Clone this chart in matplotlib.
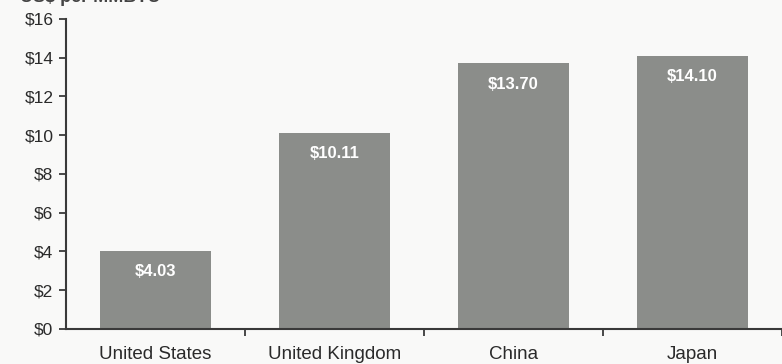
import matplotlib
matplotlib.use("Agg")
import matplotlib.pyplot as plt
from matplotlib.ticker import FixedLocator, NullFormatter

countries = ["United States", "United Kingdom", "China", "Japan"]
prices = [4.03, 10.11, 13.70, 14.10]
y_ticks = [0, 2, 4, 6, 8, 10, 12, 14, 16]
y_tick_labels = [f"${v}" for v in y_ticks]
unit_label = "US$ per MMBTU"

plt.rcParams["font.family"] = ["Liberation Sans", "DejaVu Sans"]

bg = "#f9f9f8"
bar_color = "#8b8d8a"
axis_color = "#3a3a3a"
text_color = "#2a2a2a"

fig = plt.figure(figsize=(7.82, 3.64), dpi=100, facecolor=bg)
ax = fig.add_axes([0.0844, 0.0962, 0.9156, 0.8518], facecolor=bg)

x = list(range(len(countries)))
ax.bar(x, prices, width=0.625, color=bar_color, zorder=2)

for xi, v in zip(x, prices):
    ax.annotate(f"${v:.2f}", (xi, v), xytext=(0, -15), textcoords="offset points",
                ha="center", va="center", color="white", fontsize=12,
                fontweight="bold", zorder=3)

ax.set_xlim(-0.5, len(countries) - 0.5)
ax.set_ylim(0, 16)
ax.set_yticks(y_ticks)
ax.set_yticklabels(y_tick_labels, fontsize=12.5, color=text_color)

# category labels centered, tick marks at category boundaries
ax.set_xticks(x)
ax.set_xticklabels(countries, fontsize=13.5, color=text_color)
ax.tick_params(axis="x", which="major", length=0, pad=12)
ax.xaxis.set_minor_locator(FixedLocator([i + 0.5 for i in range(len(countries))]))
ax.xaxis.set_minor_formatter(NullFormatter())
ax.tick_params(axis="x", which="minor", length=5, width=1.3, color=axis_color,
               direction="out")
ax.tick_params(axis="y", length=5, width=1.3, color=axis_color, direction="out", pad=4)

for side in ("top", "right"):
    ax.spines[side].set_visible(False)
for side in ("left", "bottom"):
    ax.spines[side].set_color(axis_color)
    ax.spines[side].set_linewidth(1.5)

fig.text(20 / 782, 1 - 2 / 364, unit_label, fontsize=13, fontweight="bold",
         color="#444444", ha="left", va="baseline")

fig.savefig("out.png", dpi=100, facecolor=bg)
